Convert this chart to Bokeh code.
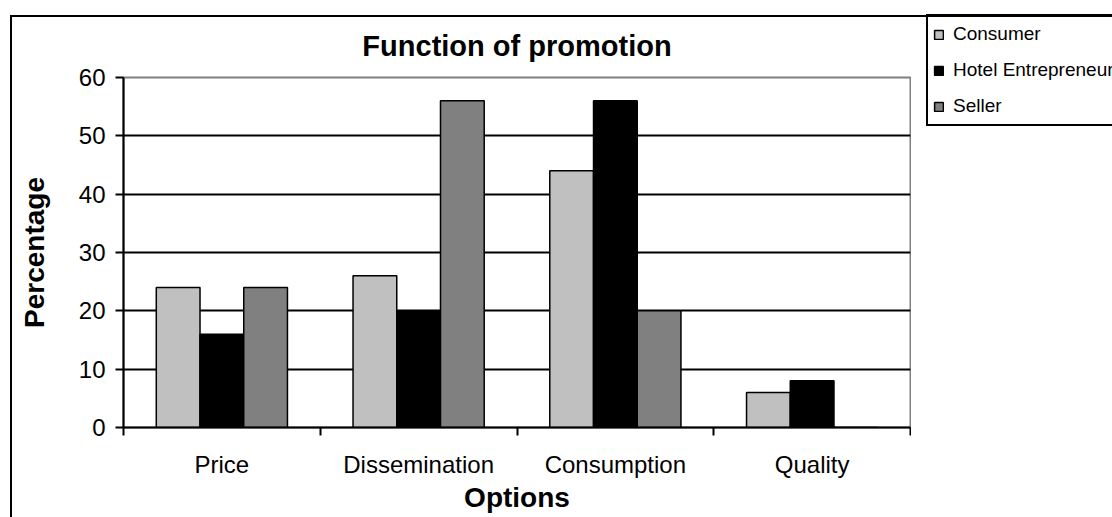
from bokeh.plotting import figure
from bokeh.models import (ColumnDataSource, FixedTicker, Range1d, Legend, LegendItem,
                          InlineStyleSheet)
from bokeh.layouts import row
from bokeh.transform import dodge
from bokeh.embed import file_html
from bokeh.resources import INLINE

categories = ["Price", "Dissemination", "Consumption", "Quality"]
series_names = ["Consumer", "Hotel Entrepreneur", "Seller"]
consumer = [24, 26, 44, 6]
hotel = [16, 20, 56, 8]
seller = [24, 56, 20, 0]
y_ticks = [0, 10, 20, 30, 40, 50, 60]
colors = ["#C0C0C0", "#000000", "#808080"]

FONT = "Liberation Sans"

centers = [i + 0.5 for i in range(len(categories))]
source = ColumnDataSource(dict(x=centers, consumer=consumer, hotel=hotel, seller=seller))

# outer chart border (left and top edges; right/bottom run off the page)
css_row = InlineStyleSheet(css="""
:host { position: relative; }
:host::after {
  content: ''; position: absolute; left: 10px; top: 15px; right: 0px; bottom: 0px;
  border-left: 2px solid black; border-top: 2px solid black;
  pointer-events: none; box-sizing: border-box; z-index: 10;
}
""")
# lift the legend panel so the legend box sits on the chart's top border
css_side = InlineStyleSheet(css=":host { transform: translateY(-78px); }")

p = figure(width=911, height=517, output_backend="svg", toolbar_location=None,
           x_range=Range1d(0, len(categories)), y_range=Range1d(0, 60),
           min_border_left=123, min_border_right=1, min_border_top=77,
           min_border_bottom=90, title="Function of promotion")

p.background_fill_color = "white"
p.border_fill_color = "white"
p.outline_line_color = "#808080"
p.outline_line_width = 2

bw = 2.0 / 9.0
series_cols = ["consumer", "hotel", "seller"]
for k, col in enumerate(series_cols):
    p.vbar(x=dodge("x", (k - 1) * bw), top=col, width=bw, source=source,
           fill_color=colors[k], line_color="black", line_width=1.5)

# Title
p.title.text_font = FONT
p.title.text_font_size = "29px"
p.title.text_font_style = "bold"
p.title.text_color = "black"
p.title.align = "center"
p.title.standoff = 31

# Y axis
p.yaxis.ticker = FixedTicker(ticks=y_ticks)
p.yaxis.major_tick_out = 8
p.yaxis.major_tick_in = 0
p.yaxis.minor_tick_out = 0
p.yaxis.minor_tick_in = 0
p.yaxis.axis_line_width = 2
p.yaxis.major_tick_line_width = 2
p.yaxis.major_label_text_font = FONT
p.yaxis.major_label_text_font_size = "24px"
p.yaxis.major_label_text_color = "black"
p.yaxis.major_label_standoff = 10
p.yaxis.axis_label = "Percentage"
p.yaxis.axis_label_text_font = FONT
p.yaxis.axis_label_text_font_size = "28px"
p.yaxis.axis_label_text_font_style = "bold"
p.yaxis.axis_label_text_color = "black"
p.yaxis.axis_label_standoff = 26

# X axis: labels at category centres, ticks at boundaries (minor)
p.xaxis.ticker = FixedTicker(ticks=centers, minor_ticks=list(range(len(categories) + 1)))
p.xaxis.major_label_overrides = {c: lab for c, lab in zip(centers, categories)}
p.xaxis.major_tick_out = 0
p.xaxis.major_tick_in = 0
p.xaxis.minor_tick_out = 8
p.xaxis.minor_tick_in = 0
p.xaxis.minor_tick_line_width = 2
p.xaxis.axis_line_width = 2
p.xaxis.major_label_text_font = FONT
p.xaxis.major_label_text_font_size = "24px"
p.xaxis.major_label_text_color = "black"
p.xaxis.major_label_standoff = 15
p.xaxis.axis_label = "Options"
p.xaxis.axis_label_text_font = FONT
p.xaxis.axis_label_text_font_size = "28px"
p.xaxis.axis_label_text_font_style = "bold"
p.xaxis.axis_label_text_color = "black"
p.xaxis.axis_label_standoff = 1

# Grid
p.xgrid.grid_line_color = None
p.ygrid.ticker = FixedTicker(ticks=y_ticks[1:-1])
p.ygrid.grid_line_color = "black"
p.ygrid.grid_line_width = 2

# Side panel holding the legend (legend box runs off the right edge);
# its ranges lie below/left of the data so its bars stay out of view.
side = figure(width=201, height=517, output_backend="svg", toolbar_location=None,
              x_axis_type=None, y_axis_type=None, min_border=0, title=None,
              x_range=Range1d(-101, -100), y_range=Range1d(-101, -100),
              stylesheets=[css_side])
side.outline_line_color = None
side.background_fill_color = None
side.border_fill_color = None
side.xgrid.grid_line_color = None
side.ygrid.grid_line_color = None

leg_renderers = [side.vbar(x="x", top=col, width=bw, source=source,
                           fill_color=colors[k], line_color="black", line_width=1.5)
                 for k, col in enumerate(series_cols)]

legend = Legend(items=[LegendItem(label=n, renderers=[r]) for n, r in zip(series_names, leg_renderers)],
                location="top_left", orientation="vertical",
                label_text_font=FONT, label_text_font_size="19px",
                label_text_color="black",
                glyph_width=11, glyph_height=11, label_standoff=9,
                label_height=26, label_width=180, spacing=10, padding=5, margin=15,
                border_line_color="black", border_line_width=2, border_line_alpha=1,
                background_fill_color="white", background_fill_alpha=1)
side.add_layout(legend)

layout = row(p, side, spacing=0, stylesheets=[css_row])
open("out.html", "w").write(file_html(layout, INLINE))
